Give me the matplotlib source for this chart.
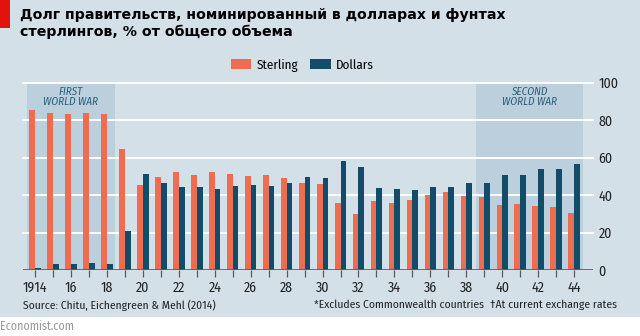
import matplotlib
matplotlib.use("Agg")
import matplotlib.pyplot as plt
from matplotlib.patches import Rectangle
import numpy as np

# share of government debt, % of total
years = np.arange(1914, 1945)
sterling = [85.5, 84.0, 83.3, 83.7, 83.2, 64.7, 45.2, 49.8, 52.5, 50.9,
            52.3, 51.2, 50.2, 50.5, 49.3, 46.5, 45.9, 36.0, 30.1, 36.7,
            35.5, 37.4, 39.9, 41.8, 39.4, 39.2, 34.8, 35.1, 34.0, 33.7, 30.3]
dollars = [0.9, 3.0, 3.4, 3.5, 3.4, 20.6, 51.1, 46.5, 44.3, 44.5,
           43.3, 44.7, 45.4, 45.0, 46.5, 49.7, 49.3, 58.0, 55.0, 44.0,
           43.1, 42.6, 44.3, 44.3, 46.3, 46.5, 50.5, 50.9, 54.1, 54.1, 56.4]
wars = [(1913.55, 1918.45, "FIRST\nWORLD WAR"), (1938.55, 1944.5, "SECOND\nWORLD WAR")]
tick_years = np.arange(1914, 1945, 2)
tick_labels = ["1914"] + [str(y)[2:] for y in tick_years[1:]]
yticks = [0, 20, 40, 60, 80, 100]

BG = "#d3e0e8"
SHADE = "#bccfdc"
RED = "#ee6d50"
BLUE = "#124c69"
narrow = ["Fira Sans Condensed", "Asap Condensed", "Archivo Narrow", "DejaVu Sans"]

fig = plt.figure(figsize=(6.4, 3.36), dpi=100, facecolor="white")
fig.patches.append(Rectangle((0, 0.0565), 1, 1, transform=fig.transFigure,
                             facecolor=BG, edgecolor="none", zorder=-10))
fig.patches.append(Rectangle((0, 0.9167), 0.0156, 0.0833, transform=fig.transFigure,
                             facecolor="#e3120b", edgecolor="none"))

ax = fig.add_axes([0.0359, 0.1964, 0.8907, 0.558])
ax.set_facecolor("none")
ax.set_xlim(1913.33, 1945.05)
ax.set_ylim(0, 100)

for x0, x1, label in wars:
    ax.axvspan(x0, x1, ymax=0.995, color=SHADE, lw=0, zorder=0)
    ax.text((x0 + x1) / 2, 98.0, label, ha="center", va="top", fontsize=8,
            style="italic", color="#2b5e7c", family=narrow, linespacing=1.0, zorder=3)

for y in yticks[1:]:
    ax.axhline(y, color="white", lw=1.4, zorder=1, clip_on=False)

w = 0.32
ax.bar(years, sterling, width=-w, align="edge", color=RED, zorder=2, label="Sterling")
ax.bar(years, dollars, width=w, align="edge", color=BLUE, zorder=2, label="Dollars")
ax.axhline(0, color="#5a5a5a", lw=1.2, zorder=3)

for s in ax.spines.values():
    s.set_visible(False)
ax.yaxis.tick_right()
ax.set_yticks(yticks)
ax.set_yticklabels([str(v) for v in yticks], family=narrow, fontsize=10, color="#222222")
ax.tick_params(axis="y", length=0, pad=4)
ax.set_xticks(years)
ax.set_xticklabels([tick_labels[list(tick_years).index(y)] if y in tick_years else ""
                    for y in years], family=narrow, fontsize=10, color="#222222")
ax.tick_params(axis="x", length=5, width=0.9, color="#5a5a5a", pad=3)

leg = ax.legend(loc="lower center", bbox_to_anchor=(0.49, 1.03), ncol=2, frameon=False,
                prop={"family": narrow, "size": 9.4}, handlelength=1.6, handleheight=0.8,
                columnspacing=0.9, handletextpad=0.4, borderaxespad=0)

title_font = dict(ha="left", va="baseline", fontsize=10.2, fontweight="bold",
                  family="DejaVu Sans", color="black")
fig.text(0.032, 1 - 19.5 / 336, "Долг правительств, номинированный в долларах и фунтах", **title_font)
fig.text(0.032, 1 - 36 / 336, "стерлингов, % от общего объема", **title_font)

foot = dict(va="center", fontsize=8.3, family=narrow, color="#222222")
fig.text(0.036, 0.092, "Source: Chitu, Eichengreen & Mehl (2014)", ha="left", **foot)
fig.text(0.757, 0.092, "*Excludes Commonwealth countries", ha="right", **foot)
fig.text(0.964, 0.092, "\u2020At current exchange rates", ha="right", **foot)
fig.text(0.0, 0.03, "Economist.com", ha="left", va="center", fontsize=8.6,
         family=narrow, color="#9a9a9a")

fig.savefig("out.png", dpi=100, facecolor=fig.get_facecolor())
